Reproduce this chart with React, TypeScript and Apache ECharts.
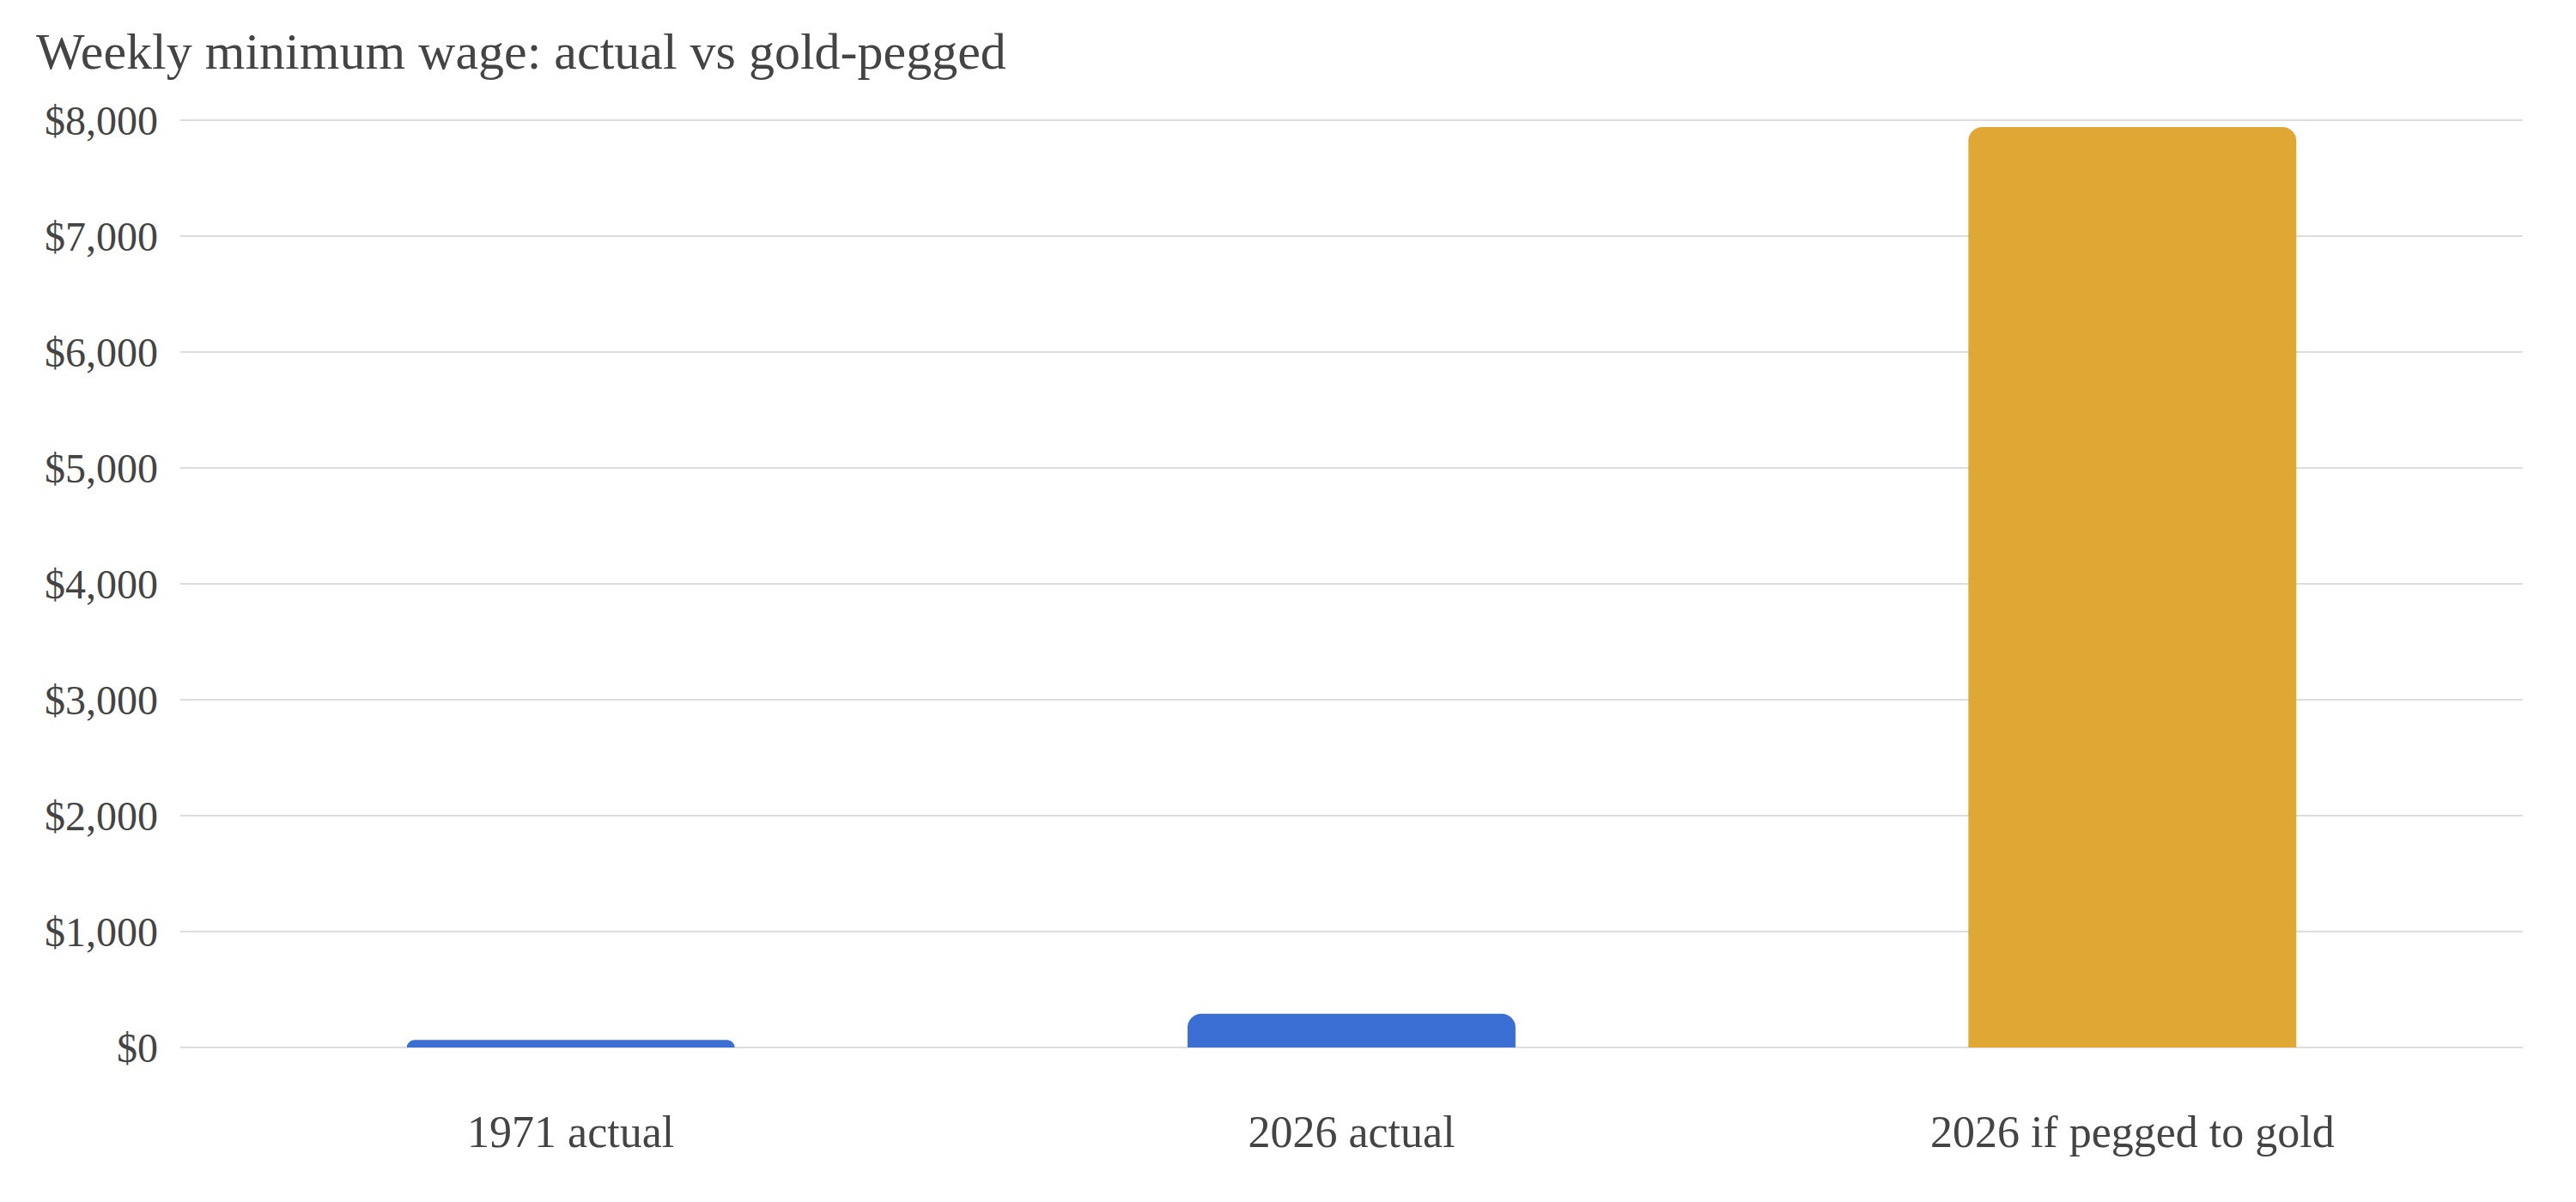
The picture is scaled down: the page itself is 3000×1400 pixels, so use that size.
import React, { useEffect, useRef } from "react";
import * as echarts from "echarts";

const TITLE = "Weekly minimum wage: actual vs gold-pegged";
const categories = ["1971 actual", "2026 actual", "2026 if pegged to gold"];
const values = [64, 290, 7940];
const barColors = ["#3c6fd4", "#3c6fd4", "#dfa733"];
const yMin = 0;
const yMax = 8000;
const yStep = 1000;

const FONT = "'Liberation Serif', 'Times New Roman', serif";

export default function App() {
  const ref = useRef<HTMLDivElement>(null);
  useEffect(() => {
    document.body.style.margin = "0";
    if (!ref.current) return;
    const chart = echarts.init(ref.current, undefined, { renderer: "svg" });
    chart.setOption({
      animation: false,
      backgroundColor: "#ffffff",
      title: {
        text: TITLE,
        left: 42,
        top: 30,
        padding: 0,
        textStyle: { fontFamily: FONT, fontSize: 60, fontWeight: "normal", color: "#444444" },
      },
      grid: { left: 210, right: 62, top: 140, bottom: 180, containLabel: false },
      xAxis: {
        type: "category",
        data: categories,
        axisLine: { show: false },
        axisTick: { show: false },
        axisLabel: { fontFamily: FONT, fontSize: 52, color: "#444444", margin: 72 },
      },
      yAxis: {
        type: "value",
        min: yMin,
        max: yMax,
        interval: yStep,
        axisLine: { show: false },
        axisTick: { show: false },
        splitLine: { lineStyle: { color: "#dddddd", width: 2 } },
        axisLabel: {
          fontFamily: FONT,
          fontSize: 48,
          color: "#444444",
          margin: 26,
          formatter: (v: number) => "$" + v.toLocaleString("en-US"),
        },
      },
      series: [
        {
          type: "bar",
          barWidth: "42%",
          data: values.map((v, i) => ({ value: v, itemStyle: { color: barColors[i] } })),
          itemStyle: { borderRadius: [16, 16, 0, 0] },
        },
      ],
    });
    return () => chart.dispose();
  }, []);
  return <div ref={ref} style={{ width: 3000, height: 1400 }} />;
}
